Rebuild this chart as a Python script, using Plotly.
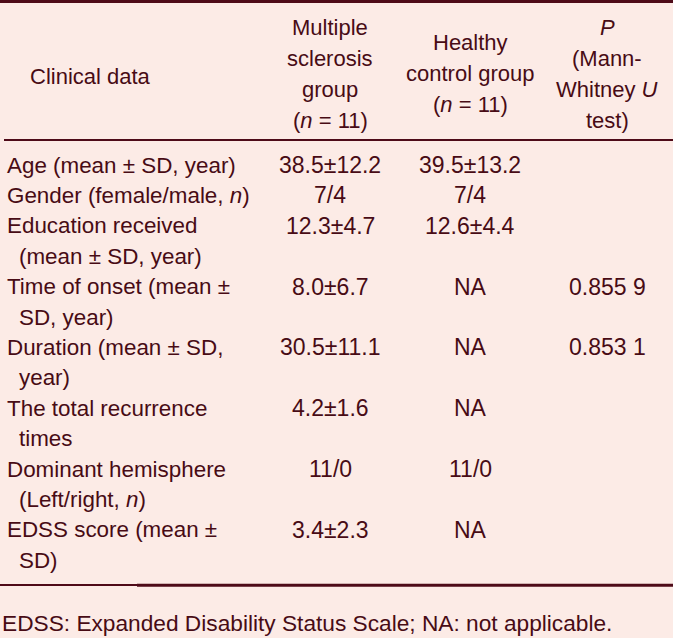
import plotly.graph_objects as go

# ---- data ----
header_clinical = "Clinical data"
header_ms = ["Multiple", "sclerosis", "group", "(<i>n</i> = 11)"]
header_hc = ["Healthy", "control group", "(<i>n</i> = 11)"]
header_p = ["<i>P</i>", "(Mann-", "Whitney <i>U</i>", "test)"]

row_labels = [
    ["Age (mean ± SD, year)"],
    ["Gender (female/male, <i>n</i>)"],
    ["Education received", "(mean ± SD, year)"],
    ["Time of onset (mean ±", "SD, year)"],
    ["Duration (mean ± SD,", "year)"],
    ["The total recurrence", "times"],
    ["Dominant hemisphere", "(Left/right, <i>n</i>)"],
    ["EDSS score (mean ±", "SD)"],
]
ms_values = ["38.5±12.2", "7/4", "12.3±4.7", "8.0±6.7", "30.5±11.1", "4.2±1.6", "11/0", "3.4±2.3"]
hc_values = ["39.5±13.2", "7/4", "12.6±4.4", "NA", "NA", "NA", "11/0", "NA"]
p_values = ["", "", "", "0.855 9", "0.853 1", "", "", ""]
footnote = "EDSS: Expanded Disability Status Scale; NA: not applicable."

# ---- style ----
W, H = 673, 638
BG = "#fcebe6"
TXT = "#480b15"
LINE = "#4e0a18"
FONT = "Liberation Sans, Arial, sans-serif"
FS_TEXT = 22.4
FS_NUM = 23
FS_NOTE = 22.7

col_x = {"label": 5, "ms": 330, "hc": 470, "p": 607}
indent = 12
body_top = 165
line_h = 30.4
head_top = 27
head_h = 31

ann = []

def add(text, x, y, xanchor="center", size=FS_TEXT):
    ann.append(dict(text=text, x=x, y=y, xref="x", yref="y", xanchor=xanchor,
                    yanchor="middle", showarrow=False,
                    font=dict(family=FONT, size=size, color=TXT)))

# header
add(header_clinical, 28, head_top + 1.6 * head_h, "left", size=22)
for i, t in enumerate(header_ms):
    add(t, col_x["ms"], head_top + i * head_h, size=22)
for i, t in enumerate(header_hc):
    add(t, col_x["hc"], head_top + (i + 0.5) * head_h, size=22)
for i, t in enumerate(header_p):
    add(t, col_x["p"], head_top + i * head_h, size=22)

# body
k = 0
for lab, ms, hc, p in zip(row_labels, ms_values, hc_values, p_values):
    y0 = body_top + k * line_h
    for j, t in enumerate(lab):
        add(t, col_x["label"] + (indent if j > 0 else 0), body_top + (k + j) * line_h, "left")
    add(ms, col_x["ms"], y0, size=FS_NUM)
    add(hc, col_x["hc"], y0, size=FS_NUM)
    if p:
        add(p, col_x["p"], y0, size=FS_NUM)
    k += len(lab)

add(footnote, 0, 623, "left", size=FS_NOTE)

def hline(x0, x1, y, w):
    return dict(type="line", x0=x0, x1=x1, y0=y, y1=y, xref="x", yref="y",
                line=dict(color=LINE, width=w))

shapes = [
    hline(0, W, 1.5, 3),
    hline(4, W, 140, 2),
    hline(0, 137, 585, 2),
    hline(137, W, 585.3, 3),
]

fig = go.Figure()
fig.update_layout(
    width=W, height=H,
    margin=dict(l=0, r=0, t=0, b=0),
    paper_bgcolor=BG, plot_bgcolor=BG,
    xaxis=dict(range=[0, W], visible=False, fixedrange=True),
    yaxis=dict(range=[H, 0], visible=False, fixedrange=True),
    annotations=ann, shapes=shapes, showlegend=False,
)
fig.write_html("out.html", config={"displayModeBar": False},
               post_script="document.body.style.margin='0';document.body.style.background='%s';" % BG)
